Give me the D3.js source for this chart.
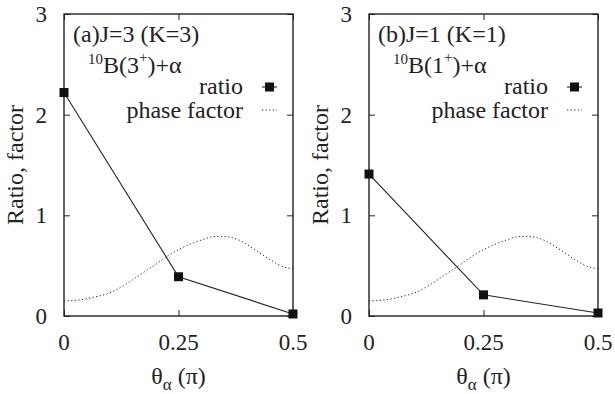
<!DOCTYPE html>
<html>
<head>
<meta charset="utf-8">
<script src="https://cdn.jsdelivr.net/npm/d3@7"></script>
<style>
  html, body { margin: 0; padding: 0; background: #fff; }
</style>
</head>
<body>
<svg id="chart" width="615" height="394"></svg>
<script>
// Angle grid (in units of pi) at which the ratio was computed
const thetaRatio = [0, 0.25, 0.5];
// Ratio for each state
const ratioA = [2.22, 0.39, 0.02];
const ratioB = [1.41, 0.21, 0.03];
// Phase factor, sampled along theta (units of pi)
const thetaPhase = [0.0, 0.035, 0.068, 0.10, 0.133, 0.166, 0.199, 0.231, 0.264, 0.297, 0.33, 0.347, 0.384, 0.417, 0.45, 0.478, 0.5];
const phaseFactor = [0.15, 0.16, 0.19, 0.23, 0.31, 0.41, 0.51, 0.61, 0.69, 0.75, 0.79, 0.79, 0.75, 0.66, 0.56, 0.49, 0.47];
// Axis ticks
const xTicks = [0, 0.25, 0.5];
const xTickLabels = ["0", "0.25", "0.5"];
const yTicks = [0, 1, 2, 3];

const panels = [
  { left: 64, title: "(a)J=3 (K=3)", spin: "3", ratio: ratioA },
  { left: 369, title: "(b)J=1 (K=1)", spin: "1", ratio: ratioB }
];

const serif = "'Liberation Serif', 'Times New Roman', 'DejaVu Serif', serif";
const svg = d3.select("#chart").style("font-family", serif);
const plotW = 229, plotTop = 14, plotBottom = 316;
const fs = 23, fsText = 24;

panels.forEach(p => {
  const g = svg.append("g");
  const x = d3.scaleLinear().domain([0, 0.5]).range([p.left, p.left + plotW]);
  const y = d3.scaleLinear().domain([0, 3]).range([plotBottom, plotTop]);

  // Inward ticks on all four sides
  const tick = 6;
  g.append("g").attr("transform", `translate(0,${plotBottom})`)
    .call(d3.axisTop(x).tickValues(xTicks).tickSize(tick).tickFormat(""))
    .call(a => a.select(".domain").remove());
  g.append("g").attr("transform", `translate(0,${plotTop})`)
    .call(d3.axisBottom(x).tickValues(xTicks).tickSize(tick).tickFormat(""))
    .call(a => a.select(".domain").remove());
  g.append("g").attr("transform", `translate(${p.left},0)`)
    .call(d3.axisRight(y).tickValues(yTicks).tickSize(tick).tickFormat(""))
    .call(a => a.select(".domain").remove());
  g.append("g").attr("transform", `translate(${p.left + plotW},0)`)
    .call(d3.axisLeft(y).tickValues(yTicks).tickSize(tick).tickFormat(""))
    .call(a => a.select(".domain").remove());
  g.selectAll(".tick line").attr("stroke", "#222").attr("stroke-width", 1);

  // Tick labels
  g.selectAll(".xl").data(xTicks).join("text")
    .attr("x", d => x(d)).attr("y", plotBottom + 34)
    .attr("text-anchor", "middle").attr("font-size", fs).attr("fill", "#222")
    .text((d, i) => xTickLabels[i]);
  g.selectAll(".yl").data(yTicks).join("text")
    .attr("x", p.left - 17).attr("y", d => y(d) + 8)
    .attr("text-anchor", "end").attr("font-size", fs).attr("fill", "#222")
    .text(d => d);

  // Frame
  g.append("rect").attr("x", p.left).attr("y", plotTop).attr("width", plotW).attr("height", plotBottom - plotTop)
    .attr("fill", "none").attr("stroke", "#222").attr("stroke-width", 1.4);

  // Phase factor (dotted)
  const phaseLine = d3.line().x((d, i) => x(thetaPhase[i])).y(d => y(d)).curve(d3.curveMonotoneX);
  g.append("path").attr("d", phaseLine(phaseFactor))
    .attr("fill", "none").attr("stroke", "#222").attr("stroke-width", 1)
    .attr("stroke-dasharray", "1.2,2.4");

  // Ratio line with square markers
  const ratioLine = d3.line().x((d, i) => x(thetaRatio[i])).y(d => y(d));
  g.append("path").attr("d", ratioLine(p.ratio))
    .attr("fill", "none").attr("stroke", "#222").attr("stroke-width", 1.1);
  const m = 9;
  g.selectAll(".pt").data(p.ratio).join("rect")
    .attr("x", (d, i) => x(thetaRatio[i]) - m / 2).attr("y", d => y(d) - m / 2)
    .attr("width", m).attr("height", m).attr("fill", "#111");

  // Panel title
  g.append("text").attr("x", p.left + 9).attr("y", 42).attr("font-size", fsText).attr("fill", "#222")
    .text(p.title);
  const sub = g.append("text").attr("x", p.left + 24).attr("y", 73).attr("font-size", fsText).attr("fill", "#222");
  sub.append("tspan").attr("font-size", 15).attr("dy", -9).text("10");
  sub.append("tspan").attr("dy", 9).text("B(" + p.spin);
  sub.append("tspan").attr("font-size", 15).attr("dy", -11).text("+");
  sub.append("tspan").attr("dy", 11).text(")+α");

  // Legend
  const lx = p.left + 179;
  g.append("text").attr("x", lx).attr("y", 94).attr("text-anchor", "end")
    .attr("font-size", fsText).attr("fill", "#222").text("ratio");
  g.append("line").attr("x1", p.left + 198).attr("x2", p.left + 213).attr("y1", 87).attr("y2", 87)
    .attr("stroke", "#222").attr("stroke-width", 1.1);
  g.append("rect").attr("x", p.left + 205.5 - m / 2).attr("y", 87 - m / 2).attr("width", m).attr("height", m)
    .attr("fill", "#111");
  g.append("text").attr("x", lx).attr("y", 118).attr("text-anchor", "end")
    .attr("font-size", fsText).attr("fill", "#222").text("phase factor");
  g.append("line").attr("x1", p.left + 198).attr("x2", p.left + 213).attr("y1", 110).attr("y2", 110)
    .attr("stroke", "#222").attr("stroke-width", 1).attr("stroke-dasharray", "1.2,2.4");

  // Axis titles
  const xt = g.append("text").attr("x", x(0.25)).attr("y", 384).attr("text-anchor", "middle")
    .attr("font-size", 24).attr("fill", "#222");
  xt.append("tspan").text("θ");
  xt.append("tspan").attr("font-size", 17).attr("dy", 6).text("α");
  xt.append("tspan").attr("dy", -6).text(" (π)");

  g.append("text").attr("transform", `translate(${p.left - 41},${(plotTop + plotBottom) / 2}) rotate(-90)`)
    .attr("text-anchor", "middle").attr("font-size", fsText).attr("fill", "#222")
    .text("Ratio, factor");
});
</script>
</body>
</html>
